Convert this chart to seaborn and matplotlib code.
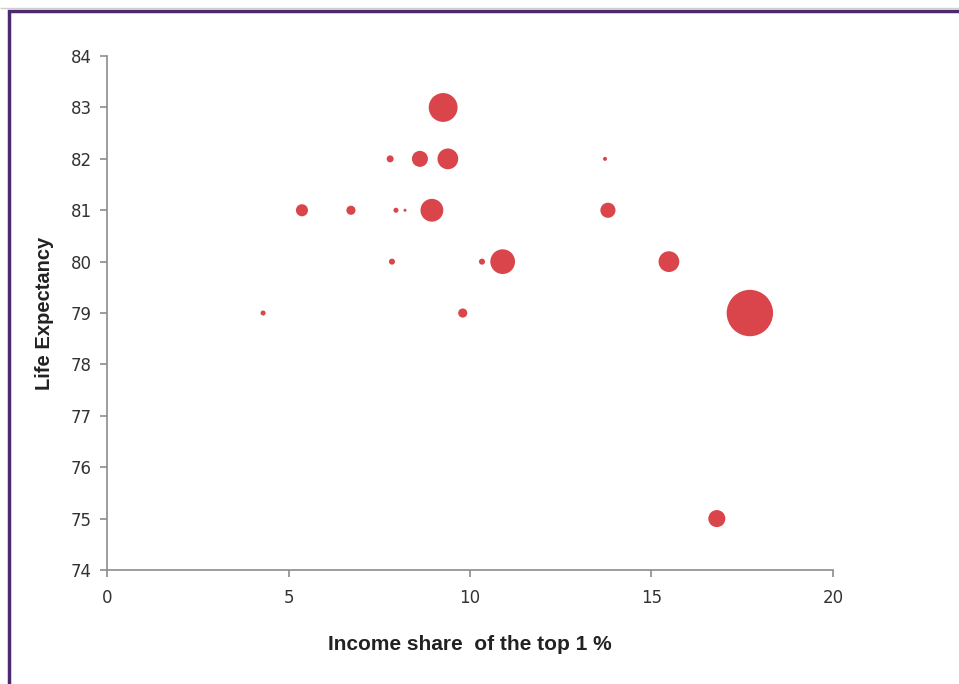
import matplotlib
matplotlib.use("Agg")
import matplotlib.pyplot as plt
import seaborn as sns
import pandas as pd
from matplotlib.patches import Rectangle

# data
income_share = [9.26, 7.80, 8.62, 9.39, 13.72, 5.37, 6.72, 7.96, 8.21, 8.95,
                13.80, 7.85, 10.33, 10.90, 15.48, 4.30, 9.80, 17.71, 16.80]
life_expectancy = [83, 82, 82, 82, 82, 81, 81, 81, 81, 81,
                   81, 80, 80, 80, 80, 79, 79, 79, 75]
population = [120, 7, 37, 62, 2.3, 21, 12, 3.7, 1.3, 75,
              33, 5.3, 5.3, 88, 62, 3.7, 12, 310, 42]

df = pd.DataFrame({"income": income_share, "life": life_expectancy, "pop": population})

sns.set_style("white")
plt.rcParams['font.family'] = ['DejaVu Sans']

fig = plt.figure(figsize=(9.59, 6.84), dpi=100)
ax = fig.add_axes([0.1116, 0.1667, 0.757, 0.7513])

pmax = max(population)
sns.scatterplot(data=df, x="income", y="life", size="pop",
                sizes=(0, 3.6 * pmax), size_norm=(0, pmax),
                color="#d9454a", edgecolor="none", linewidth=0,
                legend=False, ax=ax)

ax.set_xlim(0, 20)
ax.set_ylim(74, 84)
ax.set_xticks([0, 5, 10, 15, 20])
ax.set_yticks(range(74, 85))

for side in ["top", "right"]:
    ax.spines[side].set_visible(False)
for side in ["left", "bottom"]:
    ax.spines[side].set_color("#8c8c8c")
    ax.spines[side].set_linewidth(1.2)

ax.tick_params(axis="both", direction="out", length=5, width=1.2,
               color="#8c8c8c", labelcolor="#333333", labelsize=12,
               left=True, bottom=True)
ax.tick_params(axis="x", pad=9)
ax.tick_params(axis="y", pad=6)

bold_font = ['Liberation Sans', 'DejaVu Sans']
ax.set_xlabel("Income share  of the top 1 %", fontsize=15, fontweight="bold",
              family=bold_font, color="#222222", labelpad=20)
ax.set_ylabel("Life Expectancy", fontsize=14.5, fontweight="bold",
              family=bold_font, color="#222222", labelpad=12)

# purple frame around the chart (right and bottom edges fall outside the image)
fig.patches.append(Rectangle((0.0095, -0.05), 1.2, 1.034,
                             transform=fig.transFigure, fill=False,
                             edgecolor="#4d2a6e", linewidth=2.5))
fig.patches.append(Rectangle((0.0, 0.9885), 1.0, 0.0,
                             transform=fig.transFigure, fill=False,
                             edgecolor="#cfcfcf", linewidth=1.0))

fig.savefig("out.png", dpi=100)
